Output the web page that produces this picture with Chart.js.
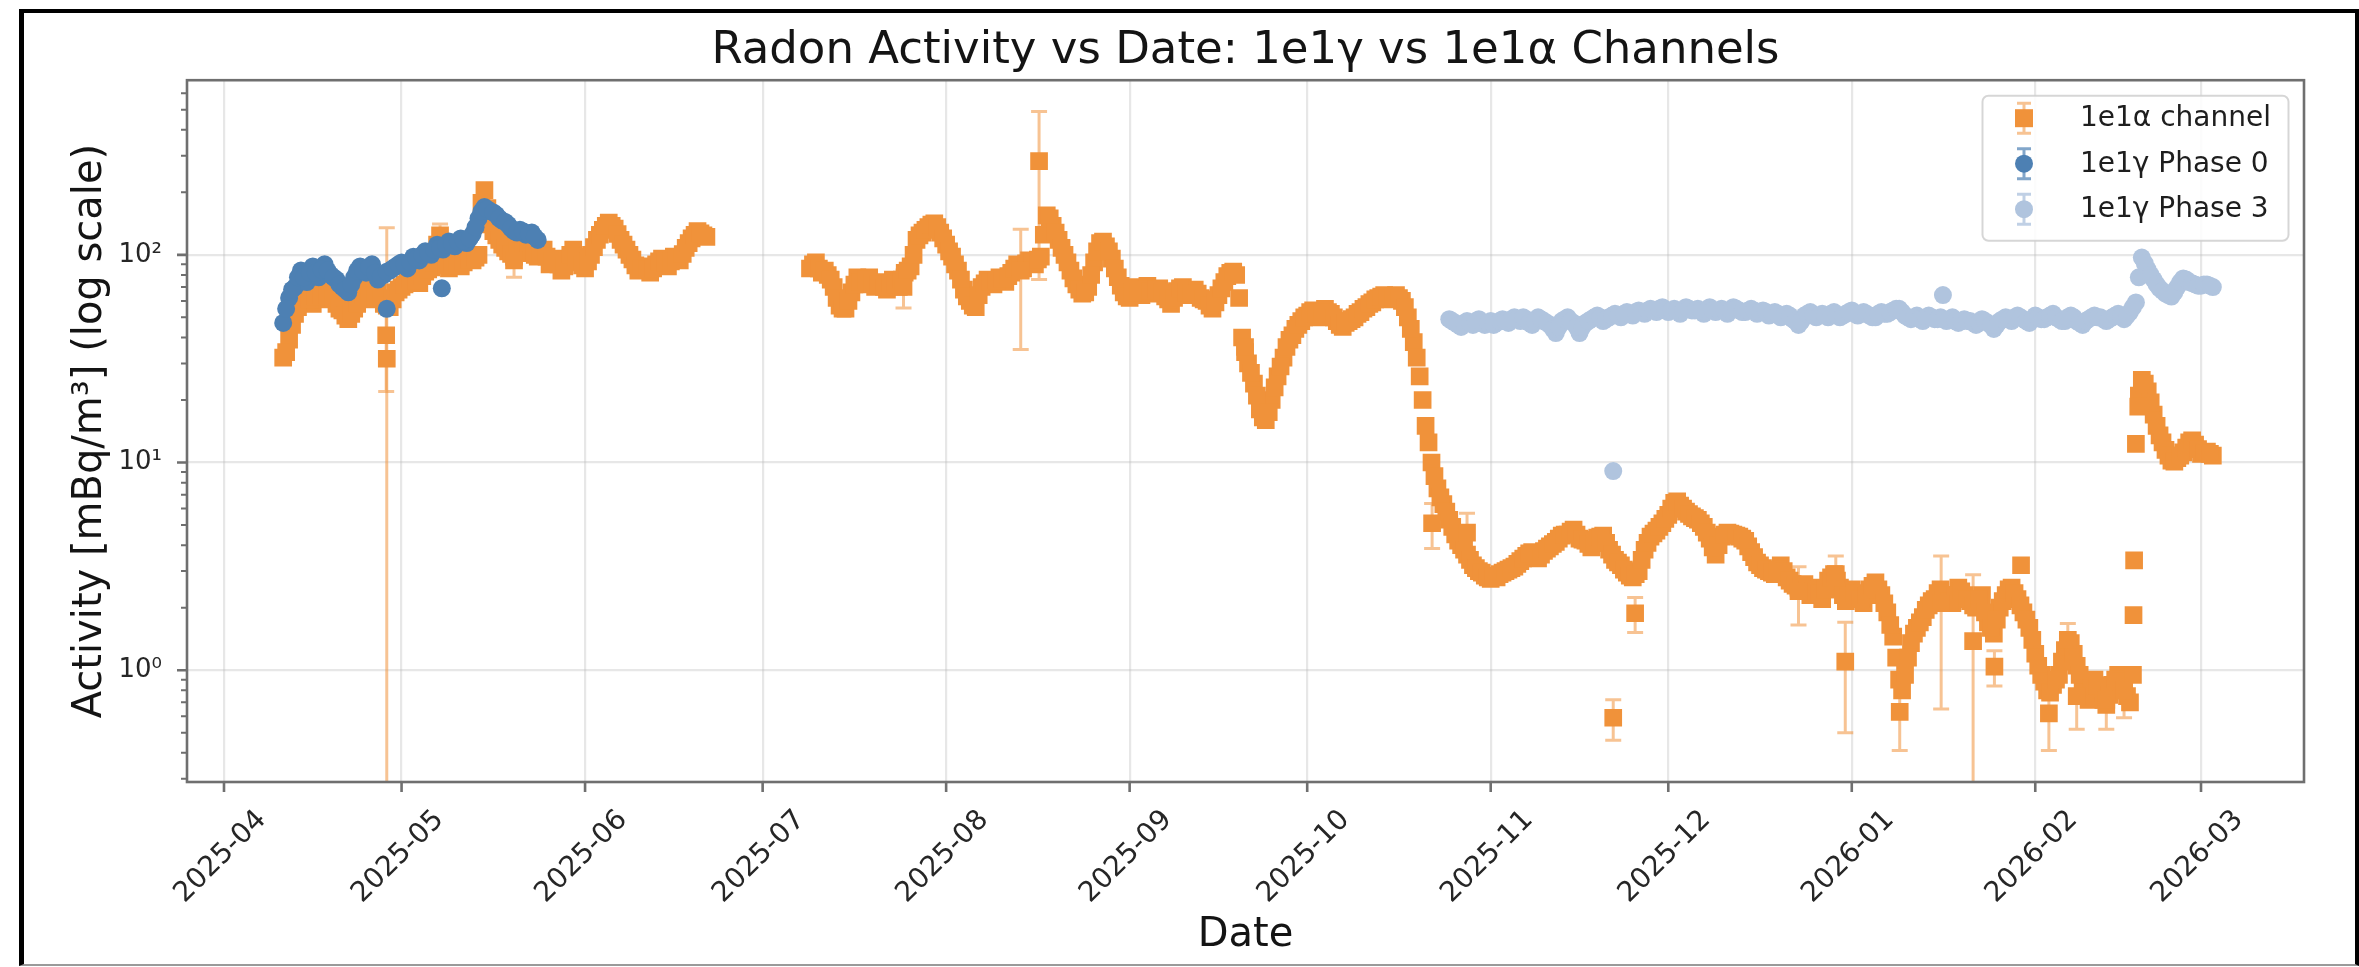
<!DOCTYPE html>
<html>
<head>
<meta charset="utf-8">
<script src="https://cdn.jsdelivr.net/npm/chart.js@4.4.1/dist/chart.umd.min.js"></script>
<style>
html,body{margin:0;padding:0;background:#fff;}
#wrap{position:relative;width:2359px;height:967px;overflow:hidden;background:#fff;}
#c{position:absolute;left:0;top:0;}
#frame{position:absolute;left:19px;top:9px;width:2331px;height:951px;border-left:5px solid #000;border-top:4px solid #000;border-right:4px solid #000;border-bottom:2px solid #9a9a9a;pointer-events:none;}
</style>
</head>
<body>
<div id="wrap"><canvas id="c" width="2359" height="967"></canvas><div id="frame"></div></div>
<script>
// ---------------- DATA ----------------
// x values are days counted from 2025-04-01
const tickLabels = ['2025-04','2025-05','2025-06','2025-07','2025-08','2025-09','2025-10','2025-11','2025-12','2026-01','2026-02','2026-03'];
const yTickValues = [1, 10, 100];
const yTickLabels = ['10\u2070', '10\u00B9', '10\u00B2'];
const seriesNames = ['1e1\u03B1 channel', '1e1\u03B3 Phase 0', '1e1\u03B3 Phase 3'];

// 1e1 alpha channel: readings at 00:00 (…) and 12:00 (…Mid) of each day
const alphaStartA = '2025-04-11';
const alphaA = [
  32,39,52,60,66,58,67,61,66,58,
  54,49,55,63,68,61,66,58,56,66,
  70,74,78,73,83,87,112,93,86,92,
  88,96,94,100,205,140,124,112,104,98,
  108,112,102,98,106,90,96,84,94,106,
  92,86,100,118,132,143,134,118,106,95,
  84,88,82,90,96,88,98,94,108,120,
  130,124
];
const alphaAMid = [
  34,46,56,63,61,63,64,64,62,55,
  51,52,58,65,64,63,62,57,61,68,
  72,76,75,79,85,92,100,89,90,89,
  92,95,97,178,168,130,118,108,101,104,
  110,106,100,102,98,93,90,88,100,98,
  89,93,109,125,138,138,126,112,100,89,
  86,85,86,93,92,93,96,101,114,125,
  127,122
];
const alphaStartB = '2025-07-09';
const alphaB = [
  86,92,82,80,70,57,55,66,78,72,
  78,70,74,68,76,70,82,88,118,128,
  136,142,128,112,98,84,68,60,56,70,
  76,72,78,74,82,90,86,94,90,98,
  155,138,118,100,84,72,65,70,92,114,
  110,96,78,66,62,70,64,71,65,69,
  63,58,67,70,64,68,62,60,55,64,
  74,82,80,40,30,24,18,16,20,26,
  32,39,44,48,51,54,50,55,52,48,
  45,48,50,53,56,59,62,64,61,64,
  60,50,38,26,15,10,7.5,6.3,5.3,4.5,
  4.0,3.6,3.2,3.0,2.85,2.75,2.8,2.95,3.05,3.15,
  3.35,3.55,3.7,3.45,3.75,3.95,4.15,4.45,4.5,4.75,
  4.3,4.2,3.9,4.35,4.45,3.8,3.4,3.2,2.95,2.8,
  3.0,3.8,4.4,4.7,5.1,5.6,6.4,6.2,5.8,5.5,
  5.3,4.9,4.3,3.6,4.4,4.6,4.5,4.4,4.2,3.7,
  3.3,3.1,3.0,2.9,3.2,2.8,2.6,2.5,2.6,2.3,
  2.5,2.2,2.7,2.9,2.5,2.15,2.45,2.3,2.1,2.45,
  2.65,2.3,1.9,1.45,0.9,0.95,1.35,1.6,1.8,2.05,
  2.2,2.45,2.25,2.1,2.5,2.3,2.15,2.0,2.3,1.7,
  1.5,2.0,2.3,2.5,2.2,1.9,1.6,1.2,0.95,0.8,
  0.85,0.95,1.25,1.35,1.05,0.85,0.72,0.9,0.78,0.68,
  0.85,0.95,0.8,0.7,12.3,25,22,17,13.5,11.5,
  10.2,10.5,11.2,12.5,12.2,11.0,11.3,10.8
];
const alphaBMid = [
  90,86,84,76,62,55,60,72,74,76,
  73,72,70,73,72,76,84,100,124,132,
  140,136,120,104,90,76,63,57,64,73,
  74,75,77,79,86,88,91,92,95,125,
  150,128,108,92,77,68,66,80,104,116,
  104,86,71,63,66,66,68,67,68,66,
  61,62,69,66,66,65,61,57,59,69,
  79,83,62,34,27,21,16.5,17.5,23,29,
  36,41,46,50,53,52,53,53,50,46,
  47,49,52,55,58,61,63,62,63,62,
  56,44,32,20,12.5,8.6,6.8,5.8,4.9,4.2,
  3.8,3.4,3.1,2.95,2.8,2.85,2.9,3.0,3.1,3.25,
  3.45,3.65,3.55,3.6,3.85,4.05,4.3,4.5,4.65,4.5,
  4.25,4.05,4.1,4.4,4.1,3.6,3.3,3.05,2.85,2.9,
  3.4,4.1,4.55,4.9,5.35,6.0,6.5,6.0,5.65,5.4,
  5.1,4.6,3.9,4.0,4.5,4.55,4.45,4.3,3.95,3.5,
  3.2,3.05,2.95,3.05,3.0,2.7,2.55,2.55,2.45,2.4,
  2.35,2.45,2.8,2.7,2.3,2.3,2.35,2.2,2.3,2.55,
  2.45,2.1,1.65,1.15,0.8,1.15,1.5,1.7,1.95,2.15,
  2.35,2.3,2.15,2.3,2.4,2.2,2.05,2.2,1.9,1.6,
  1.75,2.15,2.45,2.35,2.05,1.75,1.4,1.05,0.88,0.78,
  0.9,1.1,1.3,1.2,0.95,0.78,0.82,0.84,0.72,0.76,
  0.9,0.88,0.75,0.95,21,24,19.5,15,12.5,10.8,
  10.1,10.8,11.8,12.8,11.6,11.1,11.0
];
// alpha points with visible error bars (day, value, +/- error)
const alphaErrDay = [27.5,27.4,36.5,49,114.8,134.6,137.7,204.1,210,234.7,238.4,266,272.3,273.9,283.1,290.1,295.5,299.1,308.3,311.5,313,318,321];
const alphaErrVal = [31.6,41,124,94,70,84,283,5.1,4.6,0.59,1.88,2.4,2.9,1.1,0.63,2.1,1.38,1.04,0.62,1.4,0.75,0.72,0.8];
const alphaErr    = [103.4,19,17,16,14.5,49,207,1.25,1.1,0.13,0.36,0.75,0.65,0.6,0.22,1.45,1.5,0.2,0.21,0.28,0.23,0.2,0.21];
// other isolated alpha points
const alphaOddDay = [172.5,303.6,322.6,322.7,323.4];
const alphaOddVal = [36,3.2,1.84,3.38,18.6];

// 1e1 gamma Phase 0
const phase0Start = '2025-04-11';
const phase0 = [
  47,62,70,84,74,88,78,90,80,76,
  70,66,78,88,82,90,76,80,84,88,
  92,86,98,94,104,100,112,106,116,110,
  120,114,126,150,170,162,156,146,140,130,
  132,125,128,118
];
const phase0Mid = [
  55,68,78,78,82,82,85,84,78,72,
  68,72,84,84,87,82,79,83,86,90,
  90,92,96,100,102,106,108,112,113,116,
  117,120,136,162,166,160,150,144,134,128,
  130,126,122
];
const phase0OddDay = [27.5,36.8];
const phase0OddVal = [55,69];

// 1e1 gamma Phase 3
const phase3Start = '2025-10-25';
const phase3 = [
  49,47,45,48,46,49,46,48,47,49,
  47,50,48,49,46,50,48,46,42,48,
  50,47,42,47,49,51,48,50,52,50,
  53,51,54,52,55,53,56,53,55,52,
  56,54,55,52,56,53,55,52,56,54,
  53,55,52,54,51,53,50,52,49,46,
  51,53,50,52,50,53,50,52,54,51,
  53,51,50,53,52,54,55,51,49,51,
  48,51,49,50,48,50,47,49,48,46,
  49,47,44,48,50,48,51,49,47,51,
  49,50,52,49,48,51,48,46,49,51,
  50,48,50,52,49,53,59,97,85,76,
  69,65,63,70,77,74,72,71,72,70
];
const phase3Mid = [
  48,46,47,47,48,47,47,46,48,48,
  49,49,50,47,48,49,47,44,45,49,
  48,45,45,48,50,50,49,51,51,52,
  52,53,53,54,54,55,54,54,54,54,
  55,54,54,54,54,54,54,54,55,53,
  54,54,53,53,52,52,51,51,48,48,
  52,51,51,51,52,51,51,53,52,52,
  52,50,52,52,53,55,53,50,50,49,
  50,50,49,49,49,48,48,48,47,47,
  48,46,46,49,49,50,50,48,49,50,
  49,51,50,48,50,50,47,48,50,50,
  49,49,51,51,51,56,78,91,80,72,
  67,64,66,74,76,73,71,72,71
];
const phase3OddDay = [234.7,290.4];
const phase3OddVal = [9.1,64];

// ---------------- HELPERS ----------------
const DAY0 = Date.UTC(2025, 3, 1);
function dayOf(s) { const p = s.split('-').map(Number); return (Date.UTC(p[0], p[1] - 1, p[2] || 1) - DAY0) / 86400000; }
function daily(start, vals, hourOffset) { const d0 = dayOf(start) + (hourOffset || 0) / 24; return vals.map((v, i) => ({x: d0 + i, y: v})); }
function pts(days, vals) { return days.map((d, i) => ({x: d, y: vals[i]})); }
const tickDays = tickLabels.map(dayOf);

const ORANGE = '#f0923a';
const BLUE = '#4d80b3';
const LIGHT = '#b0c4de';

const alphaData = daily(alphaStartA, alphaA).concat(
  daily(alphaStartA, alphaAMid, 12),
  daily(alphaStartB, alphaB),
  daily(alphaStartB, alphaBMid, 12),
  pts(alphaErrDay, alphaErrVal),
  pts(alphaOddDay, alphaOddVal));
const phase0Data = daily(phase0Start, phase0).concat(daily(phase0Start, phase0Mid, 12), pts(phase0OddDay, phase0OddVal));
const phase3Data = daily(phase3Start, phase3).concat(daily(phase3Start, phase3Mid, 12), pts(phase3OddDay, phase3OddVal));

// ---------------- PLUGINS ----------------
const errPlugin = {
  id: 'errbars',
  beforeDatasetsDraw(chart) {
    const {ctx, chartArea: ca, scales: {x, y}} = chart;
    ctx.save();
    ctx.beginPath(); ctx.rect(ca.left, ca.top, ca.right - ca.left, ca.bottom - ca.top); ctx.clip();
    ctx.strokeStyle = 'rgba(240,146,58,0.55)';
    ctx.lineWidth = 3;
    for (let i = 0; i < alphaErrDay.length; i++) {
      const px = x.getPixelForValue(alphaErrDay[i]);
      const lo = alphaErrVal[i] - alphaErr[i], hi = alphaErrVal[i] + alphaErr[i];
      const pyHi = y.getPixelForValue(hi);
      const pyLo = lo > 0 ? y.getPixelForValue(lo) : ca.bottom + 5;
      ctx.beginPath();
      ctx.moveTo(px, pyHi); ctx.lineTo(px, pyLo);
      ctx.moveTo(px - 8, pyHi); ctx.lineTo(px + 8, pyHi);
      if (lo > 0) { ctx.moveTo(px - 8, pyLo); ctx.lineTo(px + 8, pyLo); }
      ctx.stroke();
    }
    ctx.restore();
  }
};

const axesPlugin = {
  id: 'axesFrame',
  afterDatasetsDraw(chart) {
    const {ctx, chartArea: ca, scales: {x, y}} = chart;
    ctx.save();
    ctx.strokeStyle = '#6f6f6f';
    ctx.lineWidth = 2.6;
    ctx.strokeRect(ca.left, ca.top, ca.right - ca.left, ca.bottom - ca.top);
    ctx.beginPath();
    tickDays.forEach(d => { const px = x.getPixelForValue(d); ctx.moveTo(px, ca.bottom); ctx.lineTo(px, ca.bottom + 10); });
    yTickValues.forEach(v => { const py = y.getPixelForValue(v); ctx.moveTo(ca.left, py); ctx.lineTo(ca.left - 10, py); });
    ctx.stroke();
    ctx.beginPath();
    ctx.lineWidth = 2;
    for (let e = -1; e <= 2; e++) {
      for (let k = 2; k <= 9; k++) {
        const v = k * Math.pow(10, e);
        if (v < y.min || v > y.max) continue;
        const py = y.getPixelForValue(v);
        ctx.moveTo(ca.left, py); ctx.lineTo(ca.left - 6, py);
      }
    }
    ctx.stroke();
    // rotated month labels, centred under their ticks
    ctx.font = '28px "DejaVu Sans"';
    ctx.fillStyle = '#262626';
    ctx.textAlign = 'right';
    ctx.textBaseline = 'middle';
    tickDays.forEach((d, i) => {
      const px = x.getPixelForValue(d);
      ctx.save();
      ctx.translate(px + 38, ca.bottom + 33.6);
      ctx.rotate(-Math.PI / 4);
      ctx.fillText(tickLabels[i], 0, 0);
      ctx.restore();
    });
    ctx.restore();
  }
};

const legendPlugin = {
  id: 'errLegend',
  afterDraw(chart) {
    const {ctx, chartArea: ca} = chart;
    const boxW = 306, boxH = 145;
    const bx = ca.right - 15.5 - boxW, by = ca.top + 15.5;
    ctx.save();
    ctx.beginPath();
    ctx.roundRect(bx, by, boxW, boxH, 6);
    ctx.fillStyle = 'rgba(255,255,255,0.85)';
    ctx.fill();
    ctx.strokeStyle = 'rgba(204,204,204,0.8)';
    ctx.lineWidth = 2;
    ctx.stroke();
    const rowsY = [by + 22.5, by + 68, by + 113.5];
    const mx = bx + 41.5;
    const marks = [
      {c: ORANGE, e: 'rgba(240,146,58,0.55)', s: 'rect'},
      {c: BLUE, e: 'rgba(77,128,179,0.7)', s: 'circle'},
      {c: LIGHT, e: 'rgba(176,196,222,0.8)', s: 'circle'}
    ];
    marks.forEach((m, i) => {
      const yy = rowsY[i];
      ctx.strokeStyle = m.e; ctx.lineWidth = 3;
      ctx.beginPath();
      ctx.moveTo(mx, yy - 15); ctx.lineTo(mx, yy + 15);
      ctx.moveTo(mx - 7, yy - 15); ctx.lineTo(mx + 7, yy - 15);
      ctx.moveTo(mx - 7, yy + 15); ctx.lineTo(mx + 7, yy + 15);
      ctx.stroke();
      ctx.fillStyle = m.c;
      ctx.beginPath();
      if (m.s === 'rect') ctx.rect(mx - 9, yy - 9, 18, 18);
      else ctx.arc(mx, yy, 9, 0, Math.PI * 2);
      ctx.fill();
      ctx.fillStyle = '#1e1e1e';
      ctx.font = '28px "DejaVu Sans"';
      ctx.textAlign = 'left';
      ctx.textBaseline = 'middle';
      ctx.fillText(seriesNames[i], bx + 97.5, yy + 1);
    });
    ctx.restore();
  }
};

// ---------------- CHART ----------------
Chart.defaults.font.family = '"DejaVu Sans"';
new Chart(document.getElementById('c'), {
  type: 'scatter',
  data: {
    datasets: [
      {label: seriesNames[0], data: alphaData, order: 3, pointStyle: 'rect', pointRadius: 12.5, pointBorderWidth: 0, pointBackgroundColor: ORANGE, backgroundColor: ORANGE, borderColor: ORANGE, showLine: false},
      {label: seriesNames[1], data: phase0Data, order: 2, pointStyle: 'circle', pointRadius: 9, pointBorderWidth: 0, pointBackgroundColor: BLUE, backgroundColor: BLUE, borderColor: BLUE, showLine: false},
      {label: seriesNames[2], data: phase3Data, order: 1, pointStyle: 'circle', pointRadius: 9, pointBorderWidth: 0, pointBackgroundColor: LIGHT, backgroundColor: LIGHT, borderColor: LIGHT, showLine: false}
    ]
  },
  options: {
    responsive: false,
    animation: false,
    devicePixelRatio: 1,
    events: [],
    layout: {padding: {left: 0, top: 0, right: 55, bottom: 0}},
    plugins: {
      legend: {display: false},
      tooltip: {enabled: false},
      title: {
        display: true,
        text: 'Radon Activity vs Date: 1e1\u03B3 vs 1e1\u03B1 Channels',
        fullSize: false,
        font: {size: 45, weight: 'normal'},
        color: '#141414',
        padding: {top: 24.6, bottom: 1.6}
      }
    },
    scales: {
      x: {
        type: 'linear',
        min: -6.25,
        max: 351.4,
        afterFit(s) { s.height = 185; },
        afterBuildTicks(s) { s.ticks = tickDays.map(v => ({value: v})); },
        ticks: {display: false, autoSkip: false, callback: (v, i) => tickLabels[i]},
        grid: {color: 'rgba(176,176,176,0.3)', lineWidth: 2.2, drawTicks: false},
        border: {display: false},
        title: {display: true, text: 'Date', font: {size: 40}, color: '#141414', padding: {top: 0, bottom: 7.3}}
      },
      y: {
        type: 'logarithmic',
        min: 0.2894,
        max: 693.6,
        afterFit(s) { s.width = 187; },
        afterBuildTicks(s) { s.ticks = yTickValues.map(v => ({value: v})); },
        ticks: {
          padding: 25,
          font: {size: 26}, color: '#262626',
          callback: (v) => yTickLabels[yTickValues.indexOf(v)]
        },
        grid: {color: 'rgba(176,176,176,0.3)', lineWidth: 2.2, drawTicks: false},
        border: {display: false},
        title: {display: true, text: 'Activity [mBq/m\u00B3] (log scale)', font: {size: 40}, color: '#141414', padding: {top: 67, bottom: 0}}
      }
    }
  },
  plugins: [errPlugin, axesPlugin, legendPlugin]
});
</script>
</body>
</html>
